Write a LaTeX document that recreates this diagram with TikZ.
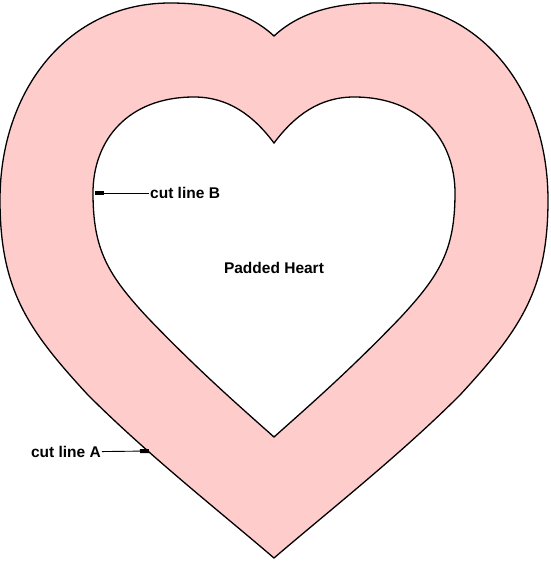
\documentclass[tikz,border=0pt]{standalone}
\usepackage{fontspec}
\setmainfont{Liberation Sans}
\usepackage{tikz}
\usetikzlibrary{arrows.meta}

\definecolor{heartpink}{RGB}{255,204,204}

\begin{document}
\begin{tikzpicture}[x=1pt,y=-1pt,>={Rectangle[length=9pt,width=4pt]},
	every node/.style={font=\fontsize{15.5}{18}\selectfont\bfseries}]
	\useasboundingbox (0,0) rectangle (550,563);
	% outer heart
	\draw [fill=heartpink, line width=1.3pt] (274,36)
		.. controls (300,12) and (335,3) .. (378,3)
		.. controls (480,3) and (548,90) .. (548,200)
		.. controls (548,290) and (520,330) .. (460,395)
		.. controls (400,455) and (330,510) .. (274,558)
		.. controls (218,510) and (148,455) .. (88,395)
		.. controls (28,330) and (0,290) .. (0,200)
		.. controls (0,90) and (68,3) .. (170,3)
		.. controls (213,3) and (248,12) .. (274,36) -- cycle;
	% inner heart
	\draw [fill=white, line width=1.3pt] (274,143)
		.. controls (295,115) and (320,97) .. (354,97)
		.. controls (420,97) and (455,140) .. (455,193)
		.. controls (455,250) and (440,275) .. (400,318)
		.. controls (350,370) and (310,405) .. (274,437)
		.. controls (238,405) and (198,370) .. (148,318)
		.. controls (108,275) and (93,250) .. (93,193)
		.. controls (93,140) and (128,97) .. (194,97)
		.. controls (228,97) and (253,115) .. (274,143) -- cycle;
	\coordinate (tipB) at (95,193);
	\coordinate (tipA) at (149,451);
	\node [anchor=west, inner sep=1pt] (lblB) at (149,193) {cut line B};
	\node [anchor=east, inner sep=1pt] (lblA) at (102,452) {cut line A};
	\node (title) at (274,268) {Padded Heart};
	\path [->, line width=0.9pt] (lblB) edge (tipB);
	\path [->, line width=0.9pt] (lblA) edge (tipA);
\end{tikzpicture}
\end{document}
